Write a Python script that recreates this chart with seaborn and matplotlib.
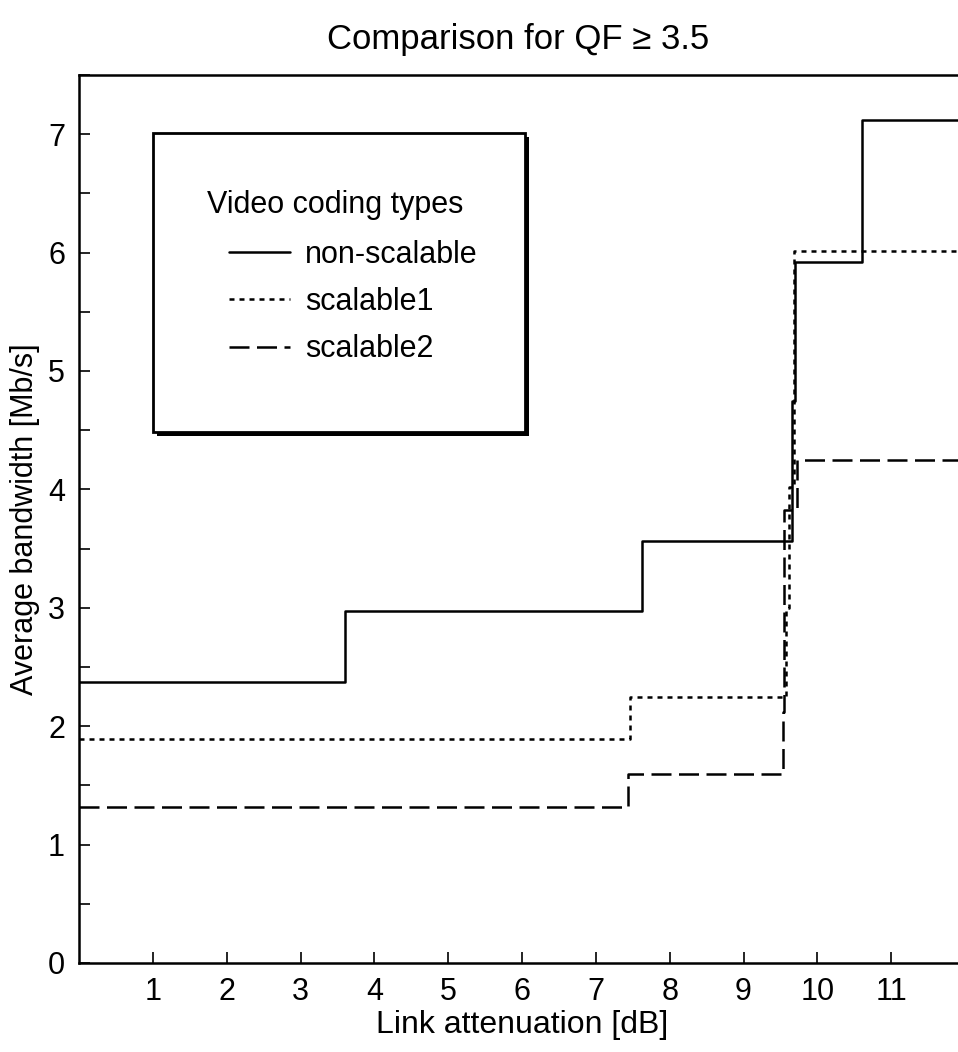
import numpy as np
import pandas as pd
import matplotlib
matplotlib.use("Agg")
import matplotlib.pyplot as plt
from matplotlib.patches import Rectangle
from matplotlib.ticker import MultipleLocator
import seaborn as sns

# ---- data (step functions, value holds from x until next x) ----
ns_x = [0.0, 3.60, 7.63, 9.66, 9.70, 10.61, 12.0]
ns_y = [2.37, 2.97, 3.56, 4.75, 5.92, 7.12, 7.12]

s1_x = [0.0, 7.46, 9.58, 9.62, 9.69, 12.0]
s1_y = [1.89, 2.25, 3.00, 4.02, 6.01, 6.01]

s2_x = [0.0, 7.43, 9.53, 9.55, 9.72, 12.0]
s2_y = [1.32, 1.60, 2.12, 3.83, 4.25, 4.25]

series_names = ["non-scalable", "scalable1", "scalable2"]
x_ticks = [1, 2, 3, 4, 5, 6, 7, 8, 9, 10, 11]
y_ticks = [0, 1, 2, 3, 4, 5, 6, 7]

sns.set_style("white")
plt.rcParams["font.family"] = ["Liberation Sans", "DejaVu Sans"]
plt.rcParams["text.color"] = "black"
plt.rcParams["axes.labelcolor"] = "black"
plt.rcParams["xtick.color"] = "black"
plt.rcParams["ytick.color"] = "black"

W, H = 958, 1052
fig = plt.figure(figsize=(W / 100, H / 100), dpi=100)
left, right, top, bottom = 79, 965, 75, 963
ax = fig.add_axes([left / W, 1 - bottom / H, (right - left) / W, (bottom - top) / H])

styles = {
    "non-scalable": "-",
    "scalable1": (0, (2.0, 2.0)),
    "scalable2": (0, (8.0, 3.0)),
}
data = {"non-scalable": (ns_x, ns_y), "scalable1": (s1_x, s1_y), "scalable2": (s2_x, s2_y)}
for name in series_names:
    xs, ys = data[name]
    df = pd.DataFrame({"x": xs, "y": ys})
    sns.lineplot(data=df, x="x", y="y", ax=ax, color="black", lw=1.8,
                 drawstyle="steps-post", linestyle=styles[name], label=name,
                 legend=False)

ax.set_xlim(0, 12)
ax.set_ylim(0, 7.5)
ax.set_xticks(x_ticks)
ax.set_yticks(y_ticks)
ax.yaxis.set_minor_locator(MultipleLocator(0.5))
ax.tick_params(axis="both", which="both", direction="in", length=8, width=1.2,
               color="black", labelsize=22, pad=10, bottom=True, left=True,
               top=False, right=False)
for s in ax.spines.values():
    s.set_color("black")
    s.set_linewidth(1.8)

ax.set_xlabel("Link attenuation [dB]", fontsize=23, labelpad=2)
ax.set_ylabel("Average bandwidth [Mb/s]", fontsize=22, labelpad=6)
fig.text((left + 958) / 2 / W, 1 - 40 / H, "Comparison for QF \u2265 3.5",
         fontsize=25, ha="center", va="center")

# legend box with shadow
bx0, bx1 = (153 - left) / (right - left), (525 - left) / (right - left)
by0, by1 = 1 - (432 - top) / (bottom - top), 1 - (133 - top) / (bottom - top)
off_x, off_y = 4 / (right - left), 4 / (bottom - top)
ax.add_patch(Rectangle((bx0 + off_x, by0 - off_y), bx1 - bx0, by1 - by0, transform=ax.transAxes,
                       facecolor="black", edgecolor="black", lw=0, zorder=4))
ax.add_patch(Rectangle((bx0, by0), bx1 - bx0, by1 - by0, transform=ax.transAxes,
                       facecolor="white", edgecolor="black", lw=2.0, zorder=5))

ax.text((335 - left) / (right - left), 1 - (205 - top) / (bottom - top), "Video coding types",
        transform=ax.transAxes, fontsize=22, ha="center", va="center", zorder=7)

handles, labels = ax.get_legend_handles_labels()
leg = ax.legend(handles, labels, frameon=False,
                loc="upper left",
                bbox_to_anchor=((229 - left) / (right - left), 1 - (240 - top) / (bottom - top)),
                fontsize=22, handlelength=2.0, handletextpad=0.5,
                labelspacing=0.56, borderpad=0, borderaxespad=0)
leg.set_zorder(6)
for line in leg.get_lines():
    line.set_linewidth(1.8)

fig.savefig("out.png", dpi=100)
